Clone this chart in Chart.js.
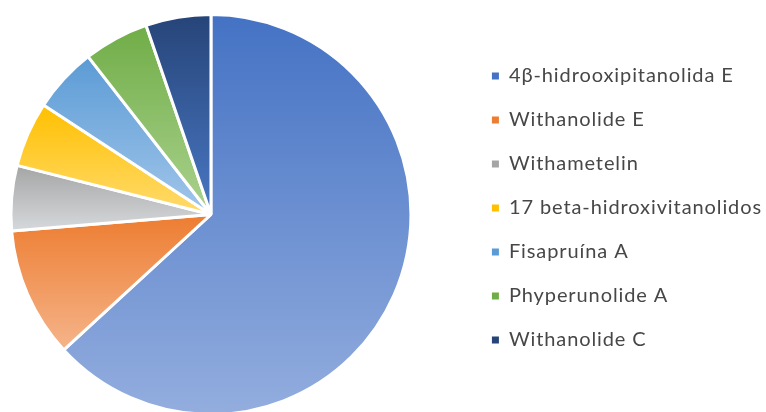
<!DOCTYPE html>
<html>
<head>
<meta charset="utf-8">
<script src="https://cdn.jsdelivr.net/npm/chart.js@4.4.1/dist/chart.umd.min.js"></script>
<style>
  html, body { margin: 0; padding: 0; background: #fff; overflow: hidden; }
  #frame { position: relative; width: 766px; height: 412px; overflow: hidden; }
  #wrap { position: absolute; left: -46px; top: 0; width: 821px; height: 418px; }
</style>
</head>
<body>
<div id="frame"><div id="wrap"><canvas id="pie"></canvas></div></div>
<script>
// Compounds and how many times each one was reported
var compounds = [
    '4β-hidrooxipitanolida E',
    'Withanolide E',
    'Withametelin',
    '17 beta-hidroxivitanolidos',
    'Fisapruína A',
    'Phyperunolide A',
    'Withanolide C'
];
var counts = [12, 2, 1, 1, 1, 1, 1];

// Office palette, with a lighter tint for the bottom of each slice's gradient
var baseColors  = ['#4472C4', '#ED7D31', '#A5A5A5', '#FFC000', '#5B9BD5', '#70AD47', '#264478'];
var lightColors = ['#93ADDE', '#F5B48A', '#D6D9DC', '#FFDB6E', '#A2C6EA', '#ABD28E', '#4A78C4'];

// Fills every slice with a top-to-bottom gradient over its own height
var sliceGradients = {
    id: 'sliceGradients',
    beforeDatasetsDraw(chart) {
        var ctx = chart.ctx;
        chart.getDatasetMeta(0).data.forEach((arc, i) => {
            var r = arc.outerRadius;
            var ys = [arc.y, arc.y + r * Math.sin(arc.startAngle), arc.y + r * Math.sin(arc.endAngle)];
            [-Math.PI / 2, Math.PI / 2, 3 * Math.PI / 2].forEach(a => {
                if (a > arc.startAngle && a < arc.endAngle) ys.push(arc.y + r * Math.sin(a));
            });
            var g = ctx.createLinearGradient(0, Math.min(...ys), 0, Math.max(...ys));
            g.addColorStop(0, baseColors[i]);
            g.addColorStop(1, lightColors[i]);
            arc.options.backgroundColor = g;
        });
    }
};

// Wider tracking for the legend text, and the legend column nudged up a bit
var legendTweaks = {
    id: 'legendTweaks',
    beforeUpdate(chart) { chart.ctx.letterSpacing = '0.9px'; },
    beforeDraw(chart) { chart.ctx.letterSpacing = '0.9px'; },
    afterLayout(chart) {
        chart.legend.top -= 6.5;
        chart.legend.bottom -= 6.5;
    }
};

var config = {
    type: 'pie',
    data: {
        labels: compounds,
        datasets: [{
            data: counts,
            backgroundColor: baseColors,
            borderColor: '#ffffff',
            borderWidth: 3,
            hoverOffset: 0,
            offset: 0
        }]
    },
    options: {
        responsive: true,
        maintainAspectRatio: false,
        animation: false,
        events: [],
        layout: { padding: { left: 0, right: 3, top: 13, bottom: 2 } },
        plugins: {
            tooltip: { enabled: false },
            legend: {
                position: 'right',
                labels: {
                    boxWidth: 7,
                    boxHeight: 7,
                    padding: 24,
                    color: '#474747',
                    font: { family: 'Lato', size: 20 },
                    // plain squares, without the white slice border round them
                    generateLabels(chart) {
                        var items = Chart.overrides.pie.plugins.legend.labels.generateLabels(chart);
                        return items.map(item => Object.assign(item, { lineWidth: 0 }));
                    }
                }
            }
        }
    },
    plugins: [sliceGradients, legendTweaks]
};

var chartObj = new Chart(document.getElementById('pie'), config);
</script>
</body>
</html>
